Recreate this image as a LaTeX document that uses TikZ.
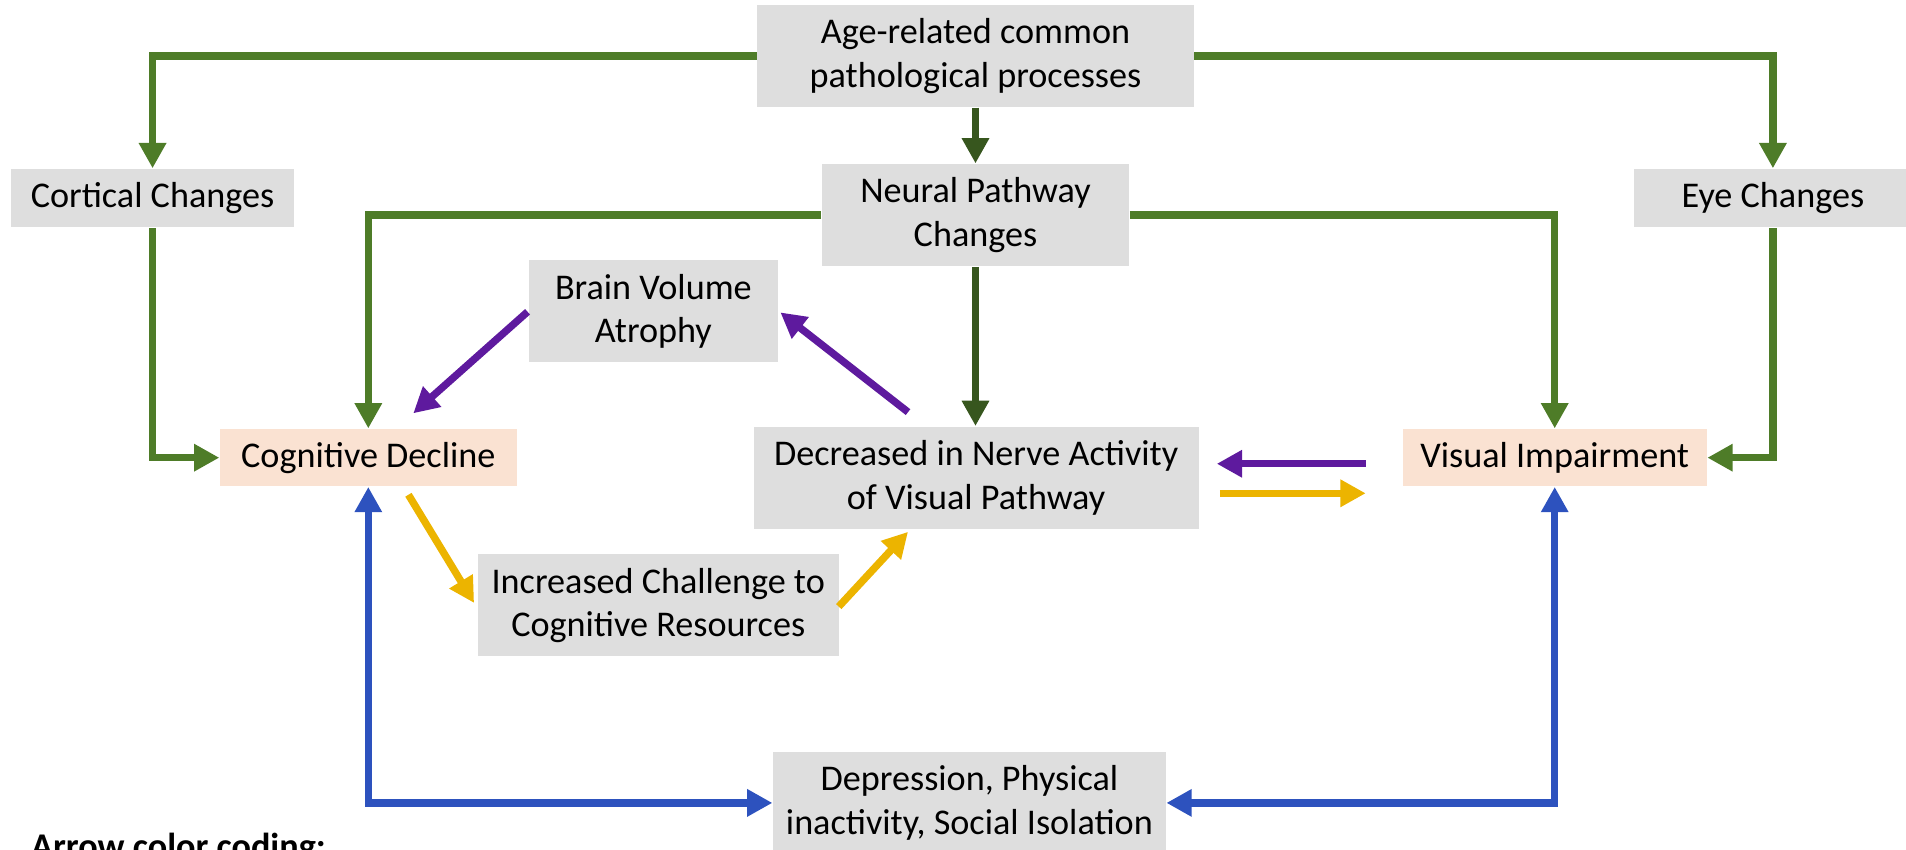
\documentclass[tikz,border=0pt]{standalone}
\usepackage{fontspec}
\setmainfont{Carlito}
\usetikzlibrary{arrows.meta}
\definecolor{boxgray}{RGB}{222,222,222}
\definecolor{peach}{RGB}{250,226,210}
\definecolor{grn}{RGB}{78,124,40}
\definecolor{dkgrn}{RGB}{55,86,30}
\definecolor{purp}{RGB}{94,26,158}
\definecolor{yel}{RGB}{236,180,0}
\definecolor{blu}{RGB}{45,82,190}
\def\upx{0.012156cm}
% box from corner (x1,y1) to (x2,y2): name, x1, y1, x2, y2, style, text
\newcommand\mkbox[7]{%
  \node[#6, minimum width={(#4-#2)*\upx}, minimum height={(#5-#3)*\upx}]
    (#1) at ({(#2+#4)/2},{(#3+#5)/2}) {#7};}
\begin{document}
\begin{tikzpicture}[x=\upx, y=-\upx,
  font=\fontsize{10.3}{12.4}\selectfont,
  gbox/.style={fill=boxgray, inner sep=0pt, align=center},
  pbox/.style={fill=peach, inner sep=0pt, align=center},
  tip/.style={-{Triangle[length=7.2pt,width=7.4pt]}},
  both/.style={{Triangle[length=7.2pt,width=7.4pt]}-{Triangle[length=7.2pt,width=7.4pt]}},
  conn/.style={line width=2.1pt},
  g/.style={conn, grn, tip},
  dg/.style={conn, dkgrn, tip},
  pp/.style={conn, purp, tip},
  yy/.style={conn, yel, tip},
  bb/.style={conn, blu, both}]
\useasboundingbox (0,0) rectangle (1568,699);
\clip (0,0) rectangle (1568,699);

% boxes
\mkbox{age}{623}{4}{982}{88}{gbox}{Age-related common\\pathological processes}
\mkbox{cortical}{9}{139}{242}{187}{gbox}{Cortical Changes}
\mkbox{eye}{1344}{139}{1573}{187}{gbox}{Eye Changes}
\mkbox{neural}{676}{135}{929}{219}{gbox}{Neural Pathway\\Changes}
\mkbox{brain}{435}{214}{640}{298}{gbox}{Brain Volume\\Atrophy}
\mkbox{cog}{181}{353}{425}{400}{pbox}{Cognitive Decline}
\mkbox{dec}{620}{351}{986}{435}{gbox}{Decreased in Nerve Activity\\of Visual Pathway}
\mkbox{vi}{1154}{353}{1404}{400}{pbox}{Visual Impairment}
\mkbox{inc}{393}{456}{690}{540}{gbox}{Increased Challenge to\\Cognitive Resources}
\mkbox{dep}{636}{618.5}{959}{702.5}{gbox}{Depression, Physical\\inactivity, Social Isolation}

\node[anchor=base west, inner sep=0pt, font=\fontsize{10.3}{12.4}\selectfont\bfseries]
  (legend) at (25,706) {Arrow color coding:};

% common pathology branches
\draw[g] (age.west) -| (cortical.north);
\draw[g] (age.east) -| (eye.north);
\draw[dg] (age.south) -- (neural.north);
\draw[g] (neural.west) -| (cog.north);
\draw[g] (neural.east) -| (vi.north);
\draw[g] (cortical.south) |- (cog.west);
\draw[g] (eye.south) |- (vi.east);
\draw[dg] (neural.south) -- (neural.south |- dec.north);

% purple pathway
\coordinate (pa) at (747,339);
\coordinate (pb) at (642,257);
\coordinate (pc) at (434,256.5);
\coordinate (pd) at (340,340);
\coordinate (pe) at (1123.5,381.5);
\coordinate (pf) at (1001,381.5);
\draw[pp] (pa) -- (pb);
\draw[pp] (pc) -- (pd);
\draw[pp] (pe) -- (pf);

% yellow pathway
\coordinate (ya) at (336,407);
\coordinate (yb) at (390,496);
\coordinate (yc) at (690,499);
\coordinate (yd) at (747,437.5);
\coordinate (ye) at (1003.5,405.8);
\coordinate (yf) at (1123.5,405.8);
\draw[yy] (ya) -- (yb);
\draw[yy] (yc) -- (yd);
\draw[yy] (ye) -- (yf);

% blue pathway
\draw[bb] (cog.south) |- (dep.west);
\draw[bb] (vi.south) |- (dep.east);
\end{tikzpicture}
\end{document}
